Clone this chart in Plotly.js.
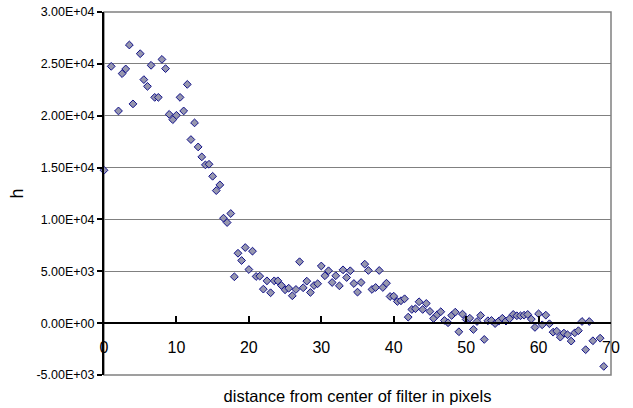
<!DOCTYPE html>
<html>
<head>
<meta charset="utf-8">
<script src="https://cdn.plot.ly/plotly-3.0.1.min.js"></script>
<style>html,body{margin:0;padding:0;background:#fff;}#chart{width:633px;height:408px;}</style>
</head>
<body>
<div id="chart"></div>
<script>
const distance = [0,1,2,2.5,3,3.5,4,5,5.5,6,6.5,7,7.5,8,8.5,9,9.5,10,10.5,11,11.5,12,12.5,13,13.5,14,14.5,15,15.5,16,16.5,17,17.5,18,18.5,19,19.5,20,20.5,21,21.5,22,22.5,23,23.5,24,24.5,25,25.5,26,26.5,27,27.5,28,28.5,29,29.5,30,30.5,31,31.5,32,32.5,33,33.5,34,34.5,35,35.5,36,36.5,37,37.5,38,38.5,39,39.5,40,40.5,41,41.5,42,42.5,43,43.5,44,44.5,45,45.5,46,46.5,47,47.5,48,48.5,49,49.5,50,50.5,51,51.5,52,52.5,53,53.5,54,54.5,55,55.5,56,56.5,57,57.5,58,58.5,59,59.5,60,60.5,61,61.5,62,62.5,63,63.5,64,64.5,65,65.5,66,66.5,67,67.5,68.5,69];
const hValues = [14740,24760,20460,24060,24510,26820,21140,25980,23480,22830,24860,21770,21770,25430,24540,20130,19620,20040,21770,20460,23020,17700,19310,16990,16030,15260,15320,14160,12780,13330,10120,9700,10570,4470,6740,6040,7290,5170,6940,4500,4530,3280,4080,2930,4080,4080,3630,3220,3370,2640,3250,5920,3410,4050,2960,3630,3800,5510,4570,5050,3920,4570,3600,5140,4400,5050,3820,2990,3920,5690,5080,3250,3440,5080,3440,3850,2570,2600,2090,2160,2350,580,1320,1390,2060,1320,1900,1130,450,810,1100,260,40,740,1060,-830,870,360,480,-610,160,740,-1570,230,260,-40,190,470,200,430,840,710,710,770,840,390,-410,900,-160,770,-60,-870,-770,-1350,-960,-1120,-1730,-930,-730,160,-2560,160,-1700,-1450,-4170];
const yTickVals = [-5000,0,5000,10000,15000,20000,25000,30000];
const yTickText = ['-5.00E+03','0.00E+00','5.00E+03','1.00E+04','1.50E+04','2.00E+04','2.50E+04','3.00E+04'];
const xTickVals = [0,10,20,30,40,50,60,70];

const font = 'Liberation Sans, Arial, sans-serif';
const trace = {
  x: distance, y: hValues, type: 'scatter', mode: 'markers',
  marker: {symbol: 'diamond', size: 6, color: '#9696ae', line: {color: '#10108a', width: 1}},
  cliponaxis: false, hoverinfo: 'skip'
};
const layout = {
  width: 633, height: 408,
  margin: {l: 104, r: 22, t: 12, b: 33},
  paper_bgcolor: '#fff', plot_bgcolor: '#fff',
  showlegend: false,
  font: {family: font, color: '#000'},
  xaxis: {
    range: [0, 70], tickvals: xTickVals, ticktext: xTickVals.map(String),
    anchor: 'free', position: 5000/35000,
    showgrid: false, zeroline: false,
    showline: true, linecolor: '#000', linewidth: 2,
    ticks: 'inside', ticklen: 6, tickcolor: '#000', tickwidth: 2,
    ticklabelstandoff: 10,
    tickfont: {family: font, size: 16, color: '#000'},
    title: {text: 'distance from center of filter in pixels', font: {family: font, size: 16.5, color: '#000'}, standoff: 34}
  },
  yaxis: {
    range: [-5000, 30000], tickvals: yTickVals, ticktext: yTickText,
    showgrid: true, gridcolor: '#808080', gridwidth: 1,
    zeroline: false,
    showline: true, linecolor: '#000', linewidth: 2,
    ticks: 'outside', ticklen: 5, tickcolor: '#000', tickwidth: 2,
    tickfont: {family: font, size: 12.5, color: '#000'},
    title: {text: 'h', font: {family: font, size: 18, color: '#000'}, standoff: 8}
  },
  shapes: [{type: 'rect', xref: 'paper', yref: 'paper', x0: 0, x1: 1, y0: 0, y1: 1, line: {color: '#808080', width: 1.5}, layer: 'below'}]
};
Plotly.newPlot('chart', [trace], layout, {staticPlot: true, displayModeBar: false});
</script>
</body>
</html>
